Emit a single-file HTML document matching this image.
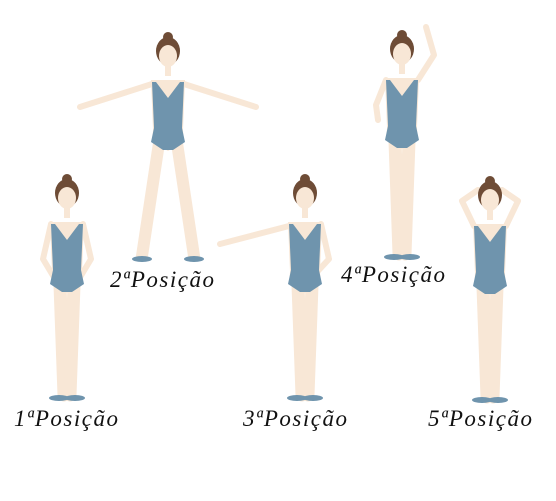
<!DOCTYPE html>
<html><head><meta charset="utf-8"><style>
html,body{margin:0;padding:0;background:#fff;width:556px;height:501px;overflow:hidden}
text{font-family:"Liberation Serif",serif;font-style:italic;font-size:23px;letter-spacing:1.5px;fill:#111}
</style></head><body>
<svg id="s" width="556" height="501" viewBox="0 0 556 501">
</svg>
<script>
const names=['1ªPosição','2ªPosição','3ªPosição','4ªPosição','5ªPosição'];
const cxs=[67,168,305,402,490];
const tops=[180,38,180,36,182];
const labelX=[14,110,243,341,428];
const labelY=[426,287,426,282,426];
const S='#f8e7d6',L='#6f94ad',H='#6e4c36';
const svg=document.getElementById('s');
function el(t,a,p){const e=document.createElementNS('http://www.w3.org/2000/svg',t);for(const k in a)e.setAttribute(k,a[k]);(p||svg).appendChild(e);return e;}
function arms(i,c,t){
  const sh=t+44;
  if(i===0)return [`M${c-16} ${sh} L${c-24} ${sh+35} L${c-12} ${sh+55}`,`M${c+16} ${sh} L${c+24} ${sh+35} L${c+12} ${sh+55}`];
  if(i===1)return [`M${c-16} ${sh+2} L${c-88} ${sh+25}`,`M${c+16} ${sh+2} L${c+88} ${sh+25}`];
  if(i===2)return [`M${c-16} ${sh+2} L${c-85} ${sh+20}`,`M${c+16} ${sh} L${c+24} ${sh+35} L${c+12} ${sh+48}`];
  if(i===3)return [`M${c-16} ${sh} L${c-26} ${sh+25} L${c-24} ${sh+40}`,`M${c+16} ${sh} L${c+32} ${sh-25} L${c+24} ${sh-53}`];
  return [`M${c-16} ${sh} L${c-28} ${sh-25} L${c-12} ${sh-36}`,`M${c+16} ${sh} L${c+28} ${sh-25} L${c+12} ${sh-36}`];
}
for(let i=0;i<5;i++){
  const c=cxs[i],t=tops[i];
  const g=el('g',{});
  
  
  arms(i,c,t).forEach(d=>el('path',{d:d,stroke:S,'stroke-width':6,fill:'none','stroke-linecap':'round','stroke-linejoin':'round'},g));
  const legBot=i===1||i===3?t+218:t+215;
  if(i===1){
    el('path',{d:`M${c-9} ${t+105} L${c-26} ${legBot}`,stroke:S,'stroke-width':12,'stroke-linecap':'round'},g);
    el('path',{d:`M${c+9} ${t+105} L${c+26} ${legBot}`,stroke:S,'stroke-width':12,'stroke-linecap':'round'},g);
  }else{
    el('path',{d:`M${c-7} ${t+105} L${c-3} ${legBot}`,stroke:S,'stroke-width':13,'stroke-linecap':'round'},g);
    el('path',{d:`M${c+7} ${t+105} L${c+3} ${legBot}`,stroke:S,'stroke-width':13,'stroke-linecap':'round'},g);
  }
  const fx=i===1?26:8;
  el('ellipse',{cx:c-fx,cy:legBot+3,rx:10,ry:3,fill:L},g);
  el('ellipse',{cx:c+fx,cy:legBot+3,rx:10,ry:3,fill:L},g);
  el('rect',{x:c-3,y:t+26,width:6,height:12,fill:S},g);
  el('path',{d:`M${c-17} ${t+42} L${c+17} ${t+42} L${c+15} ${t+92} L${c+16} ${t+104} L${c} ${t+113} L${c-16} ${t+104} L${c-15} ${t+92} Z`,fill:S},g);
  el('path',{d:`M${c-16} ${t+44} L${c-12} ${t+44} L${c} ${t+60} L${c+12} ${t+44} L${c+16} ${t+44} L${c+14} ${t+90} L${c+17} ${t+104} L${c+5} ${t+112} L${c-5} ${t+112} L${c-17} ${t+104} L${c-14} ${t+90} Z`,fill:L},g);
  el('ellipse',{cx:c,cy:t+13,rx:12,ry:14,fill:H},g);
  el('circle',{cx:c,cy:t-1,r:5,fill:H},g);
  el('ellipse',{cx:c,cy:t+18,rx:9,ry:11,fill:S},g);
  const tx=el('text',{x:labelX[i],y:labelY[i]});
  tx.textContent=names[i];
  
  
}
</script>
</body></html>
